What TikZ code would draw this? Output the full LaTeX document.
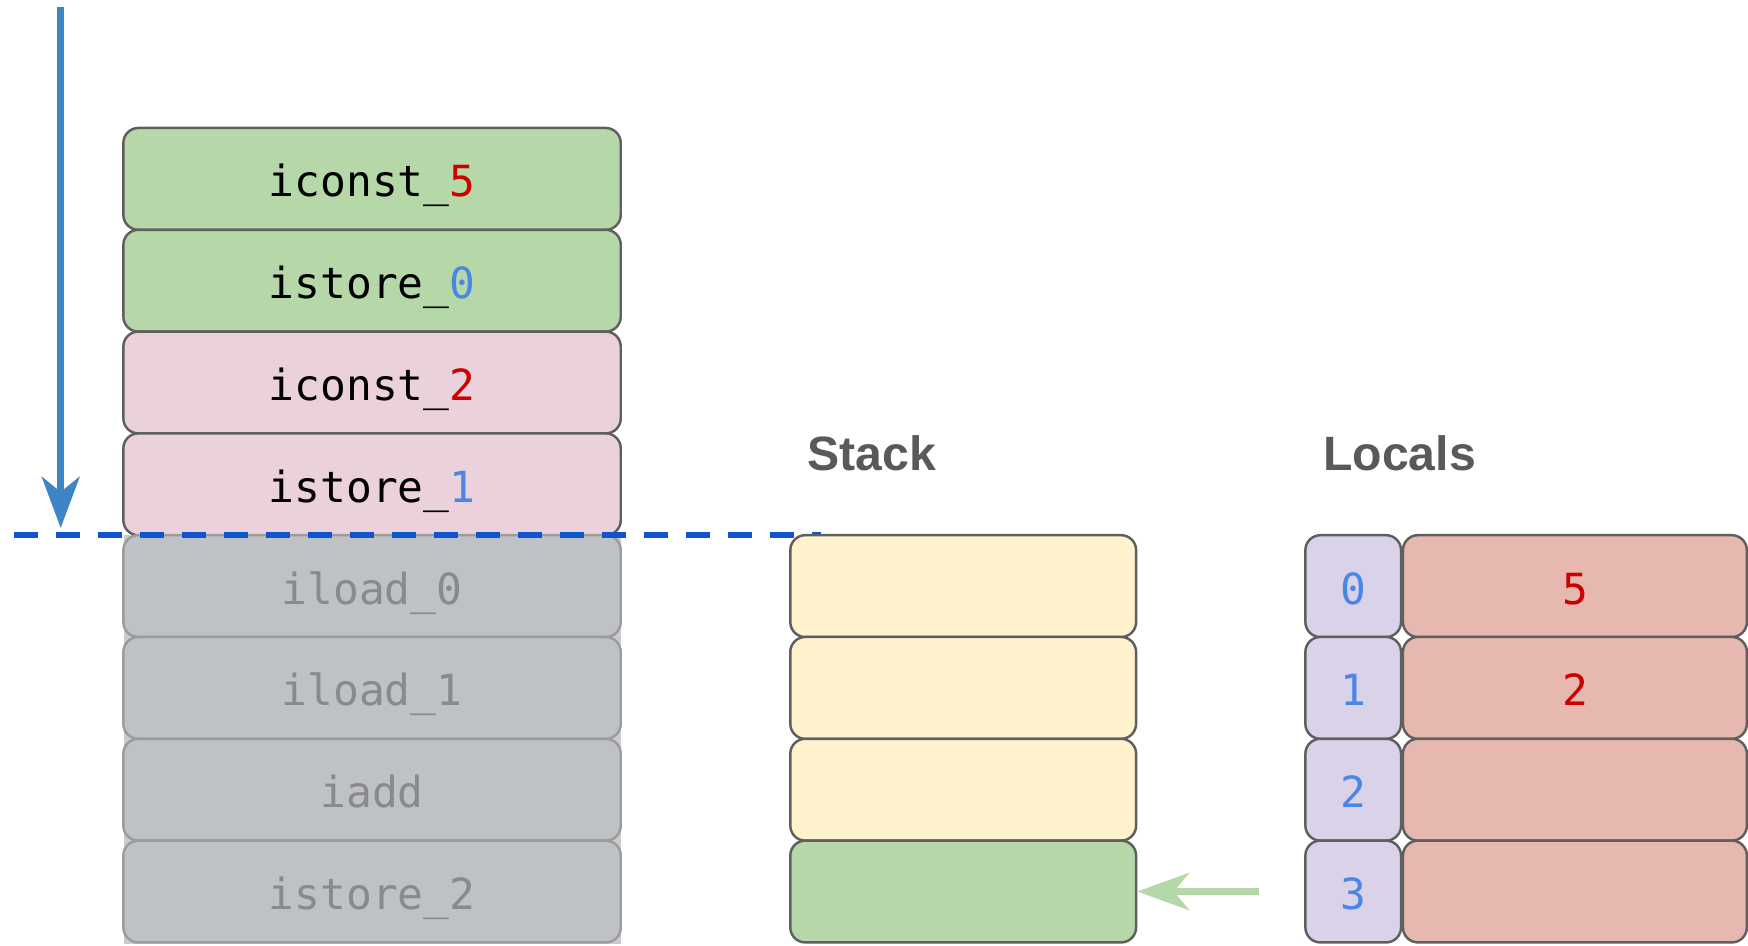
\documentclass[tikz,border=0pt]{standalone}
\usepackage{fontspec}
\newfontfamily\codefont{DejaVu Sans Mono}
\newfontfamily\headfont{Liberation Sans}
\usetikzlibrary{arrows.meta}

\definecolor{opgreen}{HTML}{B6D7A8}
\definecolor{oppink}{HTML}{EAD1DC}
\definecolor{opgray}{HTML}{BEC1C5}
\definecolor{opgrayline}{HTML}{9C9C9C}
\definecolor{opgraytext}{HTML}{8A8A8A}
\definecolor{graylayer}{HTML}{CBCBCB}
\definecolor{stackyellow}{HTML}{FFF2CC}
\definecolor{idxlilac}{HTML}{D9D2E9}
\definecolor{valsalmon}{HTML}{E6B8AF}
\definecolor{framegray}{HTML}{5F5F5F}
\definecolor{constred}{HTML}{CC0000}
\definecolor{idxblue}{HTML}{4A86E8}
\definecolor{flowblue}{HTML}{3D85C6}
\definecolor{pcblue}{HTML}{1155CC}
\definecolor{headgray}{HTML}{595959}

\begin{document}
\begin{tikzpicture}[x=0.01cm, y=-0.01cm,
  cell/.style={draw=framegray, line width=0.7pt, rounded corners=0.15cm,
    minimum height=1.018cm, inner sep=0pt,
    text height=0.36cm, text depth=0cm,
    font=\codefont\fontsize{12.2}{14}\selectfont},
  opcell/.style={cell, minimum width=4.971cm},
  ranop/.style={opcell, fill=opgreen},
  curop/.style={opcell, fill=oppink},
  todoop/.style={opcell, fill=opgray, draw=opgrayline, text=opgraytext},
  stackcell/.style={cell, minimum width=3.456cm, fill=stackyellow},
  topcell/.style={cell, minimum width=3.456cm, fill=opgreen},
  idxcell/.style={cell, minimum width=0.956cm, fill=idxlilac, text=idxblue},
  valcell/.style={cell, minimum width=3.437cm, fill=valsalmon, text=constred},
  heading/.style={anchor=base west, inner sep=0pt, text=headgray,
    font=\headfont\bfseries\fontsize{13.7}{16}\selectfont},
  flowarrow/.style={draw=flowblue, line width=2.15pt,
    -{Stealth[length=0.51cm, width=0.376cm, inset=0.15cm]}},
  pcline/.style={draw=pcblue, line width=1.5pt, dash pattern=on 0.24cm off 0.18cm},
  loadarrow/.style={draw=opgreen, line width=2.2pt,
    -{Stealth[length=0.515cm, width=0.37cm, inset=0.15cm]}}
]
\useasboundingbox (0,0) rectangle (1748,945);

% instruction list
\node[ranop] (op1) at (372.05,178.9) {iconst\_\textcolor{constred}{5}};
\node[ranop] (op2) at (372.05,280.7) {istore\_\textcolor{idxblue}{0}};
\node[curop] (op3) at (372.05,382.5) {iconst\_\textcolor{constred}{2}};
\node[curop] (op4) at (372.05,484.3) {istore\_\textcolor{idxblue}{1}};

% instructions not yet executed
\fill[graylayer] (123.5,535.2) rectangle (620.6,943.5);
\node[todoop] (op5) at (372.05,586.1) {iload\_0};
\node[todoop] (op6) at (372.05,687.9) {iload\_1};
\node[todoop] (op7) at (372.05,789.7) {iadd};
\node[todoop] (op8) at (372.05,891.5) {istore\_2};

% execution direction and current position
\coordinate (flowtop) at (60.7,7);
\coordinate (flowend) at (60.7,528);
\draw[flowarrow] (flowtop) -- (flowend);
\coordinate (pcleft) at (13.5,535);
\coordinate (pcright) at (821,535);
\draw[pcline] (pcleft) -- (pcright);

% operand stack
\node[heading] (stacktitle) at (807,470.5) {Stack};
\node[stackcell] (s1) at (963.2,586.1) {};
\node[stackcell] (s2) at (963.2,687.9) {};
\node[stackcell] (s3) at (963.2,789.7) {};
\node[topcell]   (s4) at (963.2,891.5) {};

% local variables
\node[heading] (localstitle) at (1322.5,470.6) {Locals};
\node[idxcell] (i0) at (1353.2,586.1) {0};
\node[idxcell] (i1) at (1353.2,687.9) {1};
\node[idxcell] (i2) at (1353.2,789.7) {2};
\node[idxcell] (i3) at (1353.2,891.5) {3};
\node[valcell] (v0) at (1574.9,586.1) {5};
\node[valcell] (v1) at (1574.9,687.9) {2};
\node[valcell] (v2) at (1574.9,789.7) {};
\node[valcell] (v3) at (1574.9,891.5) {};

\draw[loadarrow] ([xshift=-0.452cm]i3.west) -- (s4.east);
\end{tikzpicture}
\end{document}
